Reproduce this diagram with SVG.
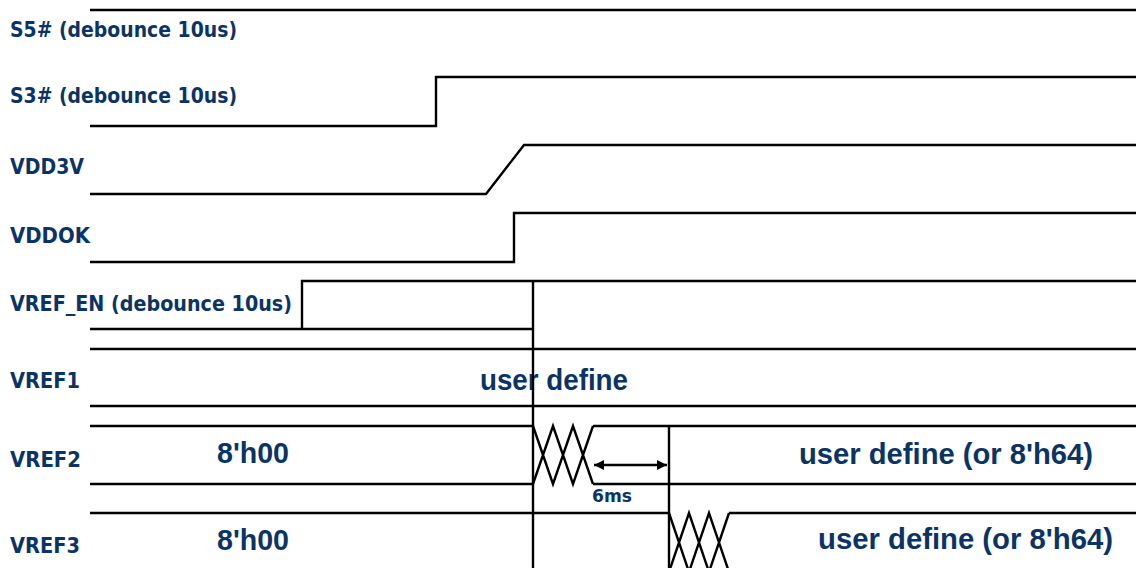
<svg xmlns="http://www.w3.org/2000/svg" width="1136" height="568" viewBox="0 0 1136 568">
<defs>
<style>
.w{fill:none;stroke:#000;stroke-width:2.4;stroke-linejoin:miter}
.lbl{font-family:"DejaVu Sans","Liberation Sans",sans-serif;font-weight:bold;font-size:21px;fill:#0b3466}
.val{font-family:"Liberation Sans","DejaVu Sans",sans-serif;font-weight:bold;font-size:29px;fill:#0b3466}
.sm{font-family:"DejaVu Sans","Liberation Sans",sans-serif;font-weight:bold;font-size:17px;fill:#0b3466}
</style>
<marker id="ah" viewBox="0 0 10 10" refX="10" refY="5" markerWidth="11" markerHeight="10" markerUnits="userSpaceOnUse" orient="auto-start-reverse">
<path d="M0,0 L10,5 L0,10 Z" fill="#000"/>
</marker>
</defs>
<rect width="1136" height="568" fill="#fff"/>

<g id="s5">
<text class="lbl" x="10" y="37" textLength="227" lengthAdjust="spacingAndGlyphs">S5# (debounce 10us)</text>
<path class="w" d="M90,10 H1136"/>
</g>
<g id="s3">
<text class="lbl" x="10" y="103" textLength="227" lengthAdjust="spacingAndGlyphs">S3# (debounce 10us)</text>
<path class="w" d="M90,126 H436 V77 H1136"/>
</g>
<g id="vdd3v">
<text class="lbl" x="10" y="174" textLength="74" lengthAdjust="spacingAndGlyphs">VDD3V</text>
<path class="w" d="M90,194 H486 L524,145 H1136"/>
</g>
<g id="vddok">
<text class="lbl" x="10" y="243" textLength="80" lengthAdjust="spacingAndGlyphs">VDDOK</text>
<path class="w" d="M90,262 H514 V213 H1136"/>
</g>
<g id="vref_en">
<text class="lbl" x="10" y="311" textLength="282" lengthAdjust="spacingAndGlyphs">VREF_EN (debounce 10us)</text>
<path class="w" d="M90,329 H533"/>
<path class="w" d="M302,329 V281 H1136"/>
</g>
<g id="vref1">
<text class="lbl" x="10" y="388" textLength="70" lengthAdjust="spacingAndGlyphs">VREF1</text>
<path class="w" d="M90,349 H1136 M90,406 H1136"/>
<text class="val" x="480" y="390" textLength="148" lengthAdjust="spacingAndGlyphs">user define</text>
</g>
<g id="vref2">
<text class="lbl" x="10" y="467" textLength="71" lengthAdjust="spacingAndGlyphs">VREF2</text>
<path class="w" d="M90,426 H533 M90,484 H533 M593,426 H1136 M593,484 H1136"/>
<path class="w" d="M533,426 L553,484 L573,426 L593,484 M533,484 L553,426 L573,484 L593,426"/>
<text class="val" x="217" y="463" textLength="72" lengthAdjust="spacingAndGlyphs">8'h00</text>
<text class="val" x="799" y="464" textLength="294" lengthAdjust="spacingAndGlyphs">user define (or 8'h64)</text>
</g>
<g id="vref3">
<text class="lbl" x="10" y="553" textLength="70" lengthAdjust="spacingAndGlyphs">VREF3</text>
<path class="w" d="M90,513 H669 M729,513 H1136"/>
<path class="w" d="M669,513 L689,572 L709,513 L729,572 M669,572 L689,513 L709,572 L729,513"/>
<text class="val" x="217" y="550" textLength="72" lengthAdjust="spacingAndGlyphs">8'h00</text>
<text class="val" x="818" y="549" textLength="295" lengthAdjust="spacingAndGlyphs">user define (or 8'h64)</text>
</g>

<g id="connectors">
<path class="w" d="M533,281 V568"/>
<path class="w" d="M669,426 V568"/>
<path class="w" d="M594,465 H667" marker-start="url(#ah)" marker-end="url(#ah)"/>
<text class="sm" x="592" y="502" textLength="40" lengthAdjust="spacingAndGlyphs">6ms</text>
</g>
</svg>
